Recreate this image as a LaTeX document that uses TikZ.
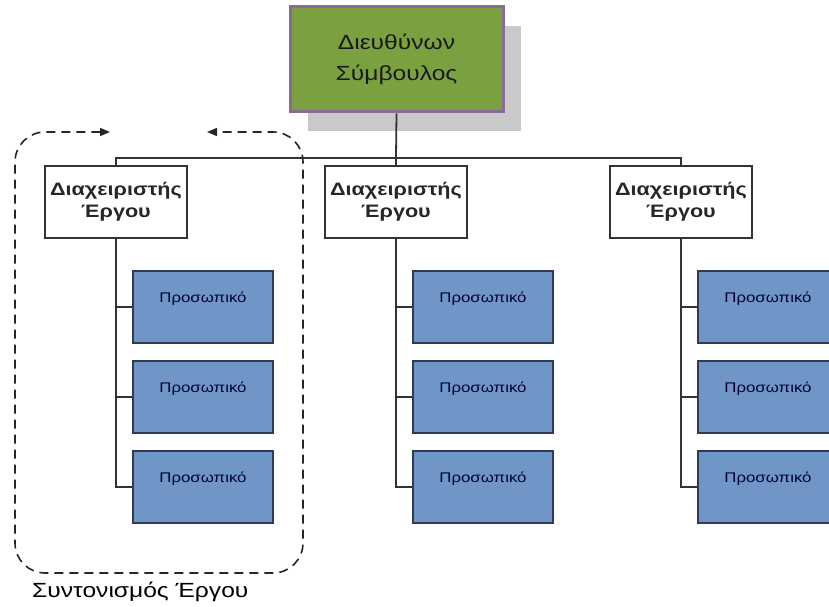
\documentclass[tikz,border=0pt]{standalone}
\usepackage{fontspec}
\setmainfont{Liberation Sans}
\newfontfamily\wideface[FakeStretch=1.2]{Liberation Sans}
\usetikzlibrary{arrows.meta}
\definecolor{ceofill}{HTML}{7AA040}
\definecolor{ceoedge}{HTML}{8A6A98}
\definecolor{shadowgray}{HTML}{C9C9C9}
\definecolor{stafffill}{HTML}{7096C8}
\definecolor{staffedge}{HTML}{2E3B55}
\definecolor{wire}{HTML}{333333}
\tikzset{
  x=1pt, y=-1pt,
  ceobox/.style={draw=ceoedge, line width=3pt, fill=ceofill,
    minimum width=213pt, minimum height=105pt, inner sep=0pt,
    align=center, font=\wideface\fontsize{20.5}{31}\selectfont, text=black!90},
  shadowbox/.style={fill=shadowgray, minimum width=213pt, minimum height=105pt, inner sep=0pt},
  mgrbox/.style={draw=wire, line width=1.2pt, fill=white,
    minimum width=142pt, minimum height=72pt, inner sep=0pt,
    align=center, font=\wideface\bfseries\fontsize{18}{22}\selectfont, text=black!85},
  staffbox/.style={draw=staffedge, line width=1.2pt, fill=stafffill,
    minimum width=140pt, inner sep=0pt, text height=31pt, text depth=41pt,
    font=\wideface\fontsize{14}{15}\selectfont, text=black!80!blue},
  link/.style={draw=wire, line width=1.8pt},
  coord/.style={draw=black!85, line width=1.6pt, dash pattern=on 9pt off 6pt,
    rounded corners=30pt,
    {Triangle[length=10pt,width=8pt]}-{Triangle[length=10pt,width=8pt]}},
}
\begin{document}
\begin{tikzpicture}
\useasboundingbox (0,0) rectangle (829,607);
\clip (0,0) rectangle (829,607);
\fill[white] (0,0) rectangle (829,607);

% chief executive with its drop shadow
\node[shadowbox] (ceoshadow) at (414.5,78.5) {};
\node[ceobox] (ceo) at (396.5,59.5) {Διευθύνων\\Σύμβουλος};

% project managers
\node[mgrbox] (m1) at (116,202) {Διαχειριστής\\Έργου};
\node[mgrbox] (m2) at (396,202) {Διαχειριστής\\Έργου};
\node[mgrbox] (m3) at (681,202) {Διαχειριστής\\Έργου};

% staff under each manager
\foreach \c/\x in {1/203,2/483,3/768}{
  \foreach \r/\y in {1/307,2/397,3/487}{
    \node[staffbox] (s\c\r) at (\x,\y) {Προσωπικό};
  }
}

% reporting lines
\coordinate (bus) at (396,158);
\draw[link] (ceo.south) -- (bus);
\draw[link] (m1.north) |- (bus) -| (m3.north);
\draw[link] (bus) -- (m2.north);
\foreach \c in {1,2,3}{
  \draw[link] (m\c.south) |- (s\c3.west);
  \draw[link] (m\c.south |- s\c1.west) -- (s\c1.west);
  \draw[link] (m\c.south |- s\c2.west) -- (s\c2.west);
}

% project coordination loop
\coordinate (loopL) at (110,132);
\coordinate (loopR) at (207,132);
\draw[coord] (loopL) -- (15,132) -- (15,573) -- (303,573) -- (303,132) -- (loopR);
\node[font=\wideface\fontsize{20.5}{24}\selectfont, anchor=base west, inner sep=0pt]
  (looplabel) at (32,597) {Συντονισμός Έργου};
\end{tikzpicture}
\end{document}
